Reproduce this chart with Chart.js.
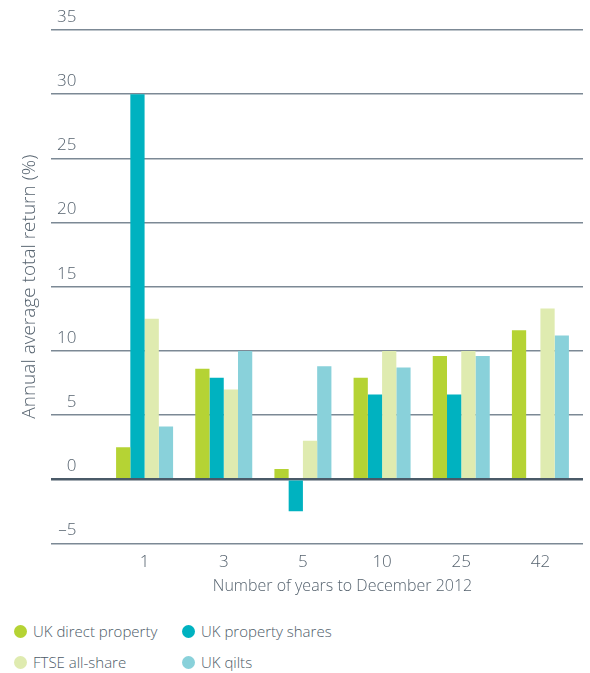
<!DOCTYPE html>
<html>
<head>
<meta charset="utf-8">
<script src="https://cdn.jsdelivr.net/npm/chart.js@4/dist/chart.umd.min.js"></script>
<style>
	body { margin: 0; background: #fff; font-family: "Open Sans", sans-serif; }
	#wrap { position: relative; width: 590px; height: 673px; }
	#chartBox { position: absolute; left: 0; top: 0; width: 590px; height: 605px; }
	#legend { position: absolute; left: 0; top: 621px; width: 590px; }
	.item { position: absolute; font-size: 15px; font-weight: 300; color: #4d5b68; line-height: 20px; white-space: nowrap; }
	.dot { display: inline-block; width: 13px; height: 13px; border-radius: 50%; vertical-align: -1px; margin-right: 6px; }
</style>
</head>
<body>
<div id="wrap">
	<div id="chartBox"><canvas id="returnsChart"></canvas></div>
	<div id="legend"></div>
</div>
<script>
	//categories (years to December 2012)
	var years = ['1', '3', '5', '10', '25', '42'];

	//series values (annual average total return, %)
	var ukDirectProperty = [2.5, 8.6, 0.8, 7.9, 9.6, 11.6];
	var ukPropertyShares = [30, 7.9, -2.5, 6.6, 6.6, null];
	var ftseAllShare = [12.5, 7.0, 3.0, 10.0, 10.0, 13.3];
	var ukGilts = [4.1, 10.0, 8.8, 8.7, 9.6, 11.2];

	var seriesNames = ['UK direct property', 'UK property shares', 'FTSE all-share', 'UK qilts'];
	var seriesColors = ['#b5d334', '#00b2c0', '#dfebb0', '#89d1da'];

	//y tick range
	var yMin = -5;
	var yMax = 35;
	var yStep = 5;

	var textColor = '#56636f';

	//stretch the category axis over the bar area only, gridlines keep full width
	var shiftCategories = {
		id: 'shiftCategories',
		afterLayout: function(chart) {
			var x = chart.scales.x;
			x.left = 105;
			x.right = 580;
			x.width = x.right - x.left;
			x.configure();
		}
	};

	var allSeries = [ukDirectProperty, ukPropertyShares, ftseAllShare, ukGilts];
	var datasets = allSeries.map(function(values, i) {
		return {
			label: seriesNames[i],
			data: values,
			backgroundColor: seriesColors[i],
			borderWidth: 0,
			barPercentage: 1,
			categoryPercentage: 0.72
		};
	});

	var chart = new Chart(document.getElementById('returnsChart'), {
		type: 'bar',
		data: { labels: years, datasets: datasets },
		plugins: [shiftCategories],
		options: {
			responsive: true,
			maintainAspectRatio: false,
			animation: false,
			layout: { padding: { top: 30, right: 7, left: 12, bottom: 9 } },
			plugins: { legend: { display: false }, tooltip: { enabled: false } },
			scales: {
				x: {
					grid: { display: false },
					border: { display: false },
					ticks: { color: textColor, font: { family: 'Open Sans', size: 17, weight: '300' }, padding: 1 },
					title: {
						display: true,
						text: 'Number of years to December 2012',
						color: textColor,
						font: { family: 'Open Sans', size: 16, weight: '300' },
						padding: { top: 3, bottom: 0 }
					}
				},
				y: {
					min: yMin,
					max: yMax,
					border: { display: false },
					afterFit: function(scale) { scale.width = 39; },
					grid: {
						drawTicks: false,
						color: function(c) { return c.tick && c.tick.value === 0 ? '#4a5a68' : '#7c8995'; },
						lineWidth: function(c) { return c.tick && c.tick.value === 0 ? 2.5 : 1.5; }
					},
					ticks: {
						stepSize: yStep,
						mirror: true,
						crossAlign: 'far',
						padding: 6,
						labelOffset: -13,
						color: textColor,
						font: { family: 'Open Sans', size: 17, weight: '300' },
						callback: function(v) { return v < 0 ? '\u2013' + Math.abs(v) : v; }
					},
					title: {
						display: true,
						text: 'Annual average total return (%)',
						color: textColor,
						font: { family: 'Open Sans', size: 19, weight: '300' },
						padding: { top: 6, bottom: 0 }
					}
				}
			}
		}
	});

	//legend in two columns, built from the datasets
	var legendPos = [[14, 0], [182, 0], [14, 31], [182, 31]];
	var legend = document.getElementById('legend');
	chart.data.datasets.forEach(function(ds, i) {
		var item = document.createElement('div');
		item.className = 'item';
		item.style.left = legendPos[i][0] + 'px';
		item.style.top = legendPos[i][1] + 'px';
		item.innerHTML = '<span class="dot" style="background:' + ds.backgroundColor + '"></span>' + ds.label;
		legend.appendChild(item);
	});
</script>
</body>
</html>
